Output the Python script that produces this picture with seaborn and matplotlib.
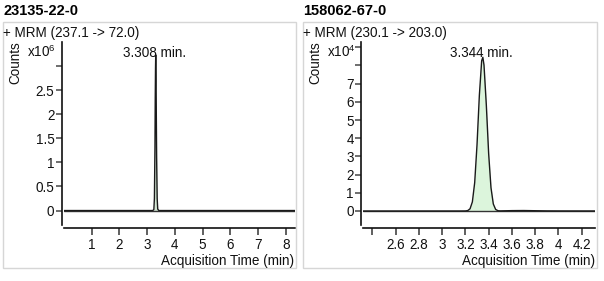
import matplotlib
matplotlib.use("Agg")
import matplotlib.pyplot as plt
import seaborn as sns
import pandas as pd
from matplotlib.patches import Rectangle

sns.set_style("white")
plt.rcParams['font.family'] = ['Liberation Sans', 'DejaVu Sans']
plt.rcParams['mathtext.fontset'] = 'custom'
plt.rcParams['mathtext.rm'] = 'Liberation Sans'
plt.rcParams['mathtext.it'] = 'Liberation Sans'

# ---- data ----
titles = ["23135-22-0", "158062-67-0"]
transitions = ["+ MRM (237.1 -> 72.0)", "+ MRM (230.1 -> 203.0)"]
peak_labels = ["3.308 min.", "3.344 min."]
peak_times = [3.308, 3.344]

time_a = [0.0, 1.0, 2.0, 3.0, 3.20, 3.24, 3.26, 3.28, 3.29, 3.30, 3.308, 3.32, 3.33, 3.34, 3.36, 3.38, 3.42, 4.0, 5.0, 6.0, 7.0, 8.0, 8.33]
counts_a = [0, 0, 0, 0, 0, 20000, 250000, 1300000, 2300000, 2950000, 3230000, 2700000, 1900000, 1100000, 250000, 30000, 0, 0, 0, 0, 0, 0, 0]

time_b = [2.32, 2.6, 2.8, 3.0, 3.15, 3.20, 3.22, 3.24, 3.26, 3.28, 3.30, 3.32, 3.34, 3.35, 3.36, 3.38, 3.40, 3.42, 3.44, 3.46, 3.48, 3.50, 3.6, 3.7, 3.8, 3.9, 4.0, 4.2, 4.32]
counts_b = [0, 0, 0, 0, 0, 30, 220, 1200, 5000, 15600, 36400, 63500, 82600, 84500, 80200, 58200, 31500, 12800, 3850, 870, 150, 60, 200, 250, 150, 60, 30, 20, 20]

yticks_a = [0, 500000, 1000000, 1500000, 2000000, 2500000, 3000000]
yticklabels_a = ["0", "0.5", "1", "1.5", "2", "2.5", ""]
xticks_a = [1, 2, 3, 4, 5, 6, 7, 8]
xticklabels_a = ["1", "2", "3", "4", "5", "6", "7", "8"]
yticks_b = [0, 10000, 20000, 30000, 40000, 50000, 60000, 70000, 80000, 90000]
yticklabels_b = ["0", "1", "2", "3", "4", "5", "6", "7", "", ""]
xticks_b = [2.4, 2.6, 2.8, 3.0, 3.2, 3.4, 3.6, 3.8, 4.0, 4.2]
xticklabels_b = ["", "2.6", "2.8", "3", "3.2", "3.4", "3.6", "3.8", "4", "4.2"]
multipliers = [r"x10$^{6}$", r"x10$^{4}$"]

W, H = 604, 281
fig = plt.figure(figsize=(W / 100, H / 100), dpi=100)
FS = 9.75

def fx(x):
    return x / W

def fy(y):
    return 1 - y / H

panels = [
    dict(t=time_a, c=counts_a, xl=(0, 8.33), yl=(-300000, 3496000),
         yt=yticks_a, ytl=yticklabels_a, xt=xticks_a, xtl=xticklabels_a,
         x0=64, x1=295, box=(3, 22, 296, 268), peak_x=155, fill='#d2e6d2'),
    dict(t=time_b, c=counts_b, xl=(2.3226, 4.314), yl=(-7700, 92900),
         yt=yticks_b, ytl=yticklabels_b, xt=xticks_b, xtl=xticklabels_b,
         x0=363.3, x1=595, box=(303, 22, 597, 268), peak_x=481, fill='#dcf5dc'),
]

for i, p in enumerate(panels):
    bx0, by0, bx1, by1 = p['box']
    fig.patches.append(Rectangle((fx(bx0), fy(by1)), fx(bx1 - bx0), (by1 - by0) / H,
                                 transform=fig.transFigure, fill=False,
                                 edgecolor='#d6d6d6', linewidth=1.0))
    ax = fig.add_axes([fx(p['x0']), fy(225), fx(p['x1'] - p['x0']), (225 - 42) / H])
    ax.patch.set_alpha(0)
    df = pd.DataFrame({"time": p['t'], "counts": p['c']})
    ax.fill_between(df["time"], 0, df["counts"], color=p['fill'], linewidth=0)
    sns.lineplot(data=df, x="time", y="counts", ax=ax, color='#1a1a1a', linewidth=1.0)
    ax.axhline(0, color='#333333', linewidth=1.0, zorder=1)
    ax.set_xlim(*p['xl'])
    ax.set_ylim(*p['yl'])
    ax.set_xticks(p['xt'])
    ax.set_xticklabels(p['xtl'])
    ax.set_yticks(p['yt'])
    ax.set_yticklabels(p['ytl'])
    ax.set_xlabel("")
    ax.set_ylabel("")
    for s in ['top', 'right']:
        ax.spines[s].set_visible(False)
    ax.spines['left'].set_position(('outward', 1.4))
    ax.spines['bottom'].set_position(('outward', 2.2))
    for s in ['left', 'bottom']:
        ax.spines[s].set_color('#111111')
        ax.spines[s].set_linewidth(1.2)
    ax.tick_params(axis='x', direction='out', length=5, width=1.2, color='#444444',
                   pad=2.5, labelsize=FS, labelcolor='#111111', bottom=True)
    ax.tick_params(axis='y', direction='out', length=4.5, width=1.2, color='#555555',
                   pad=1, labelsize=FS, labelcolor='#111111', left=True)

    # texts
    fig.text(fx(bx0), fy(15), titles[i], fontsize=10.5, fontweight='bold',
             ha='left', va='baseline', color='black')
    fig.text(fx(bx0), fy(37), transitions[i], fontsize=FS, ha='left', va='baseline',
             color='#111111')
    fig.text(fx(bx0 + 12), fy(63), "Counts", fontsize=FS, rotation=90,
             ha='center', va='center', color='#111111')
    fig.text(fx(bx0 + 24), fy(57), multipliers[i], fontsize=FS, ha='left',
             va='baseline', color='#111111')
    fig.text(fx(p['peak_x']), fy(57), peak_labels[i], fontsize=FS, ha='center',
             va='baseline', color='#111111')
    fig.text(fx(bx1 - 2), fy(265), "Acquisition Time (min)", fontsize=FS,
             ha='right', va='baseline', color='#111111')

fig.savefig("out.png", dpi=100)
